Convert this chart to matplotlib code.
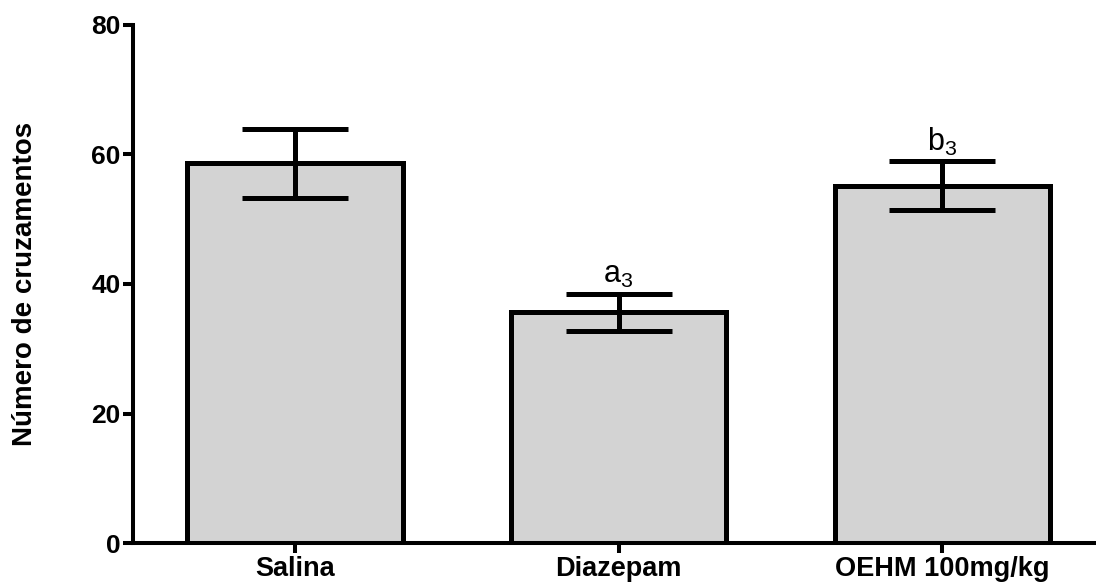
import matplotlib
matplotlib.use("Agg")
import matplotlib.pyplot as plt

# Group means, SEM and significance labels
categories = ["Salina", "Diazepam", "OEHM 100mg/kg"]
means = [58.7, 35.6, 55.1]
upper = [63.9, 38.5, 59.0]
lower = [53.3, 32.7, 51.4]
labels = ["", "a", "b"]
yticks = [0, 20, 40, 60, 80]

plt.rcParams["font.family"] = ["Liberation Sans", "DejaVu Sans"]
plt.rcParams["mathtext.default"] = "regular"

fig = plt.figure(figsize=(10.96, 5.84), dpi=100)
ax = fig.add_axes([0.1214, 0.0702, 0.886, 0.887])

x = list(range(len(categories)))
err_lo = [m - l for m, l in zip(means, lower)]
err_hi = [u - m for m, u in zip(means, upper)]

ax.bar(x, means, width=0.665, color="#d3d3d3", edgecolor="black",
       linewidth=3.6, zorder=2)
ax.errorbar(x, means, yerr=[err_lo, err_hi], fmt="none", ecolor="black",
            elinewidth=3.6, capsize=38, capthick=3.6, zorder=3)

for xi, u, lab in zip(x, upper, labels):
    if lab:
        ax.annotate(lab + r"$_{3}$", (xi, u), xytext=(0, 2.5),
                    textcoords="offset points", ha="center", va="bottom",
                    fontsize=22)

ax.set_xlim(-0.5, 2.5)
ax.set_ylim(0, 80)
ax.set_yticks(yticks)
ax.set_xticks(x)
ax.set_xticklabels(categories, fontsize=19.5, fontweight="bold")
ax.set_yticklabels([str(t) for t in yticks], fontsize=19, fontweight="bold")
ax.set_ylabel("Número de cruzamentos", fontsize=20, fontweight="bold",
              labelpad=38)

for side in ("top", "right"):
    ax.spines[side].set_visible(False)
for side in ("left", "bottom"):
    ax.spines[side].set_linewidth(2.9)
ax.tick_params(axis="both", width=2.9, length=7, direction="out", pad=2)

fig.savefig("out.png", dpi=100)
